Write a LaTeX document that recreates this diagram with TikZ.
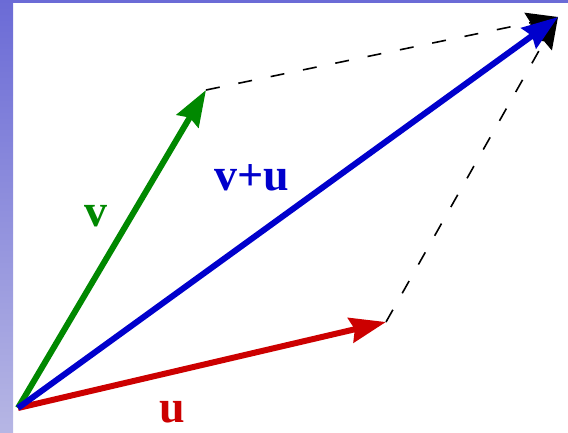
\documentclass[tikz,border=0pt]{standalone}
\usepackage{fontspec}
\setmainfont{Liberation Serif}
\usetikzlibrary{arrows.meta}
\definecolor{vgreen}{RGB}{0,136,0}
\definecolor{ublue}{RGB}{0,0,204}
\definecolor{ured}{RGB}{204,0,0}
\definecolor{stripdark}{RGB}{107,107,214}
\definecolor{striplight}{RGB}{182,182,228}
\begin{document}
\begin{tikzpicture}[x=1pt,y=-1pt,
  vec/.style={line width=6pt,arrows={-Stealth[length=36pt,width=25pt,inset=4pt]}},
  helper/.style={dash pattern=on 14pt off 19pt,line width=1.6pt,arrows={-Stealth[length=32pt,width=22pt,inset=4pt]}},
  veclabel/.style={font=\fontsize{46}{50}\selectfont\bfseries,inner sep=0pt}]
\useasboundingbox (0,0) rectangle (568,432);
\shade[top color=stripdark,bottom color=striplight] (0,0) rectangle (13,432);
\fill[stripdark] (0,0) rectangle (568,3);
\coordinate (o) at (18,408);
\coordinate (vtip) at (206,90);
\coordinate (utip) at (386,322);
\coordinate (sumtip) at (558,17);
\draw[helper] (vtip) -- (sumtip);
\draw[helper] (utip) -- (sumtip);
\draw[vec,vgreen] (o) -- (vtip);
\draw[vec,ured] (o) -- (utip);
\draw[vec,ublue] (o) -- (sumtip);
\node[veclabel,vgreen] (vlab) at (96,216) {v};
\node[veclabel,ublue] (sumlab) at (252,178) {v+u};
\node[veclabel,ured] (ulab) at (172,412) {u};
\end{tikzpicture}
\end{document}
